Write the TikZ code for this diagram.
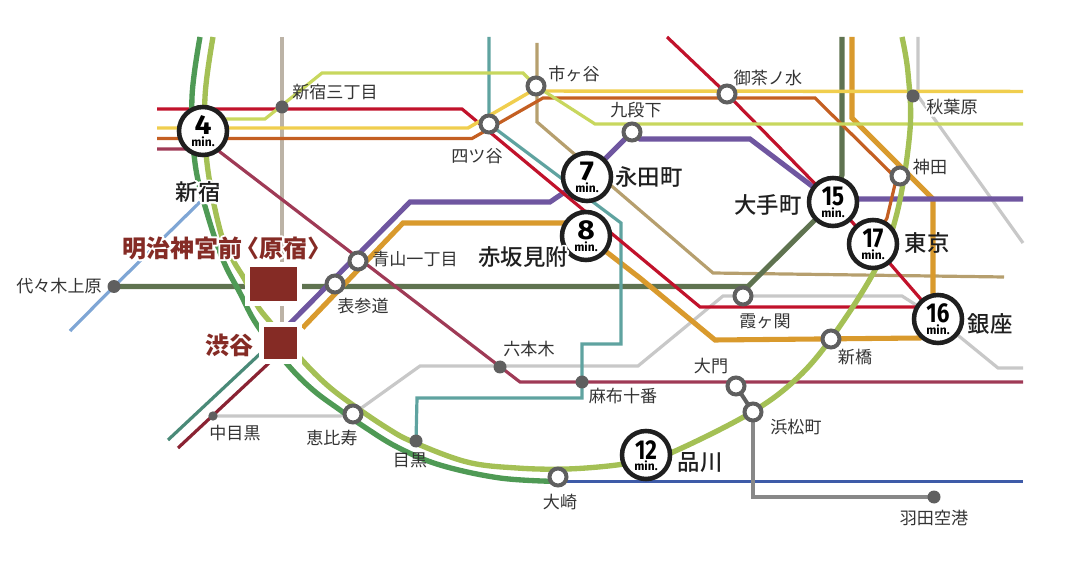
\documentclass[tikz,border=0pt]{standalone}
\usepackage{fontspec}
\usepackage{graphicx}
\setmainfont{Noto Sans CJK JP}
\newfontfamily\jpb{Noto Sans CJK JP Medium}
\newfontfamily\numf{Fira Sans}
\usetikzlibrary{backgrounds}
\definecolor{cRed}{HTML}{C1122B}
\definecolor{cYel}{HTML}{F0CE4E}
\definecolor{cBrn}{HTML}{C45F22}
\definecolor{cWine}{HTML}{9F3A56}
\definecolor{cLime}{HTML}{C8D75E}
\definecolor{cTeal}{HTML}{5FA3A0}
\definecolor{cTan}{HTML}{BCB3A6}
\definecolor{cGold}{HTML}{B69F6E}
\definecolor{cPur}{HTML}{6F56A0}
\definecolor{cOra}{HTML}{D99A2D}
\definecolor{cOli}{HTML}{5F7350}
\definecolor{cGry}{HTML}{C8C8C8}
\definecolor{cBlu}{HTML}{7FA6D5}
\definecolor{cDTl}{HTML}{4A8A78}
\definecolor{cDRd}{HTML}{8A2333}
\definecolor{cNvy}{HTML}{3E5BA8}
\definecolor{cMid}{HTML}{888888}
\definecolor{cRing}{HTML}{5F5F5F}
\definecolor{cGrn}{HTML}{4F9A55}
\definecolor{cLgn}{HTML}{A4C055}
\definecolor{cSq}{HTML}{852B25}
\definecolor{cTxt}{HTML}{333333}
\newcommand{\halotext}[1]{\leavevmode\rlap{\special{pdf:code q 1 1 1 RG 1 1 1 rg 1 j 2 Tr 3 w}#1\special{pdf:code Q}}#1}
\newcommand{\mins}[2][1.1]{\makebox[0pt]{\raisebox{-3pt}[0pt][0pt]{\numf\bfseries\fontsize{20.5pt}{20.5pt}\selectfont\scalebox{#1}[1]{#2}}}\makebox[0pt]{\raisebox{-11.3pt}[0pt][0pt]{\numf\bfseries\fontsize{9pt}{9pt}\selectfont min.}}}
\tikzset{
 rail/.style={line width=2.4pt,line join=miter},
 thick rail/.style={line width=3.8pt,line join=miter},
 ring rail/.style={line width=4pt},
 badge/.style={circle,draw=black!88,fill=white,line width=3.4pt,minimum size=36pt,inner sep=0pt,text=black},
 openst/.style={circle,draw=cRing,fill=white,line width=3pt,minimum size=12.75pt,inner sep=0pt},
 dotst/.style={circle,fill=cRing,minimum size=9.75pt,inner sep=0pt},
 smalldot/.style={circle,fill=cRing,minimum size=7pt,inner sep=0pt},
 sqst/.style={rectangle,fill=cSq,draw=white,line width=3.75pt,inner sep=0pt},
 lbl/.style={font=\fontsize{12.8pt}{13pt}\selectfont,text=cTxt,inner sep=0pt},
 big/.style={font=\jpb\fontsize{16.8pt}{17pt}\selectfont,text=black!88,inner sep=0pt},
 redl/.style={font=\bfseries\fontsize{18pt}{18pt}\selectfont,text=cSq,inner sep=0pt},
}
\begin{document}
\begin{tikzpicture}[x=0.75pt,y=-0.75pt]
\useasboundingbox (0,0) rectangle (1082,577);
% stations
\node[badge] (b4) at (203,131) {\mins{4}};
\node[badge] (b7) at (587,177) {\mins{7}};
\node[badge] (b8) at (586,236) {\mins{8}};
\node[badge] (b15) at (833,202) {\mins[.82]{15}};
\node[badge] (b17) at (873,244) {\mins[.82]{17}};
\node[badge] (b16) at (938,319) {\mins[.82]{16}};
\node[badge] (b12) at (646,455) {\mins[.82]{12}};
\node[openst] (yotsuya) at (489,124) {};
\node[openst] (ichigaya) at (536,86) {};
\node[openst] (ocha) at (727,94) {};
\node[openst] (kudan) at (632,132) {};
\node[openst] (kanda) at (900,176) {};
\node[openst] (aoyama) at (358,261) {};
\node[openst] (omote) at (335,284) {};
\node[openst] (ebisu) at (353,414) {};
\node[openst] (osaki) at (558,477) {};
\node[openst] (daimon) at (736,386) {};
\node[openst] (hama) at (753,412) {};
\node[openst] (kasumi) at (743,296) {};
\node[openst] (shinbashi) at (831,339) {};
\node[dotst] (san) at (282,107) {};
\node[dotst] (akiba) at (913,96) {};
\node[dotst] (yoyogi) at (114,286.5) {};
\node[dotst] (roppongi) at (500,367) {};
\node[dotst] (azabu) at (582,382) {};
\node[dotst] (meguro) at (416,441) {};
\node[dotst] (haneda) at (934,497) {};
\node[smalldot] (naka) at (213,416) {};
\node[sqst,minimum width=39pt,minimum height=29.25pt] (meiji) at (273.5,284) {};
\node[sqst,minimum width=28.5pt,minimum height=28pt] (shibuya) at (280.5,343) {};
% free line ends
\coordinate (redW) at (157,109);
\coordinate (yelW) at (157,128);
\coordinate (brnW) at (157,138.5);
\coordinate (winW) at (157,149);
\coordinate (yelE) at (1023,91.5);
\coordinate (limE) at (1023,124);
\coordinate (winE) at (1023,382);
\coordinate (purE) at (1023,199);
\coordinate (gryE) at (1023,368);
\coordinate (gryNE) at (1023,243);
\coordinate (nvyE) at (1023,481.5);
\coordinate (redN) at (667,37);
\coordinate (tealN) at (489,37);
\coordinate (tanN) at (282,37);
\coordinate (goldN) at (537,43);
\coordinate (goldE) at (1004,277);
\coordinate (oraN) at (852,37);
\coordinate (oliN) at (842,37);
\coordinate (gryN) at (918,37);
\coordinate (bluS) at (70,331);
\coordinate (bluN) at (200,202);
\coordinate (dtlS) at (168,440);
\coordinate (dtlN) at (262,352);
\coordinate (drdS) at (178,448);
\coordinate (drdN) at (269,363);
\begin{scope}[on background layer]
\draw[rail,cGold] (goldN) -- (537,122) -- (713,273) -- (goldE);
\draw[rail,cTan] (tanN) -- (282,270);
\draw[rail,cTan] (282,301) -- (282,326);
\draw[rail,cGry] (naka.center) -- (340,416) -- (ebisu.center) -- (420,366) -- (638,366) -- (723,296) -- (902,296) -- (b16.center) -- (998,368) -- (gryE);
\draw[rail,cGry] (gryN) -- (918,96) -- (gryNE);
\draw[rail,cBlu] (bluS) -- (yoyogi.center) -- (bluN);
\draw[rail,cDTl] (dtlN) -- (dtlS);
\draw[rail,cDRd] (drdN) -- (drdS);
\draw[rail,cNvy] (osaki.center |- nvyE) -- (nvyE);
\draw[rail,cMid] (hama.center) -- (753,497) -- (haneda.center);
\draw[rail,cRing,line width=3pt] (daimon.center) -- (hama.center);
\draw[thick rail,cOli] (oliN) -- (842,175) -- (b15.center) -- (748,286.5) -- (yoyogi.center);
\draw[thick rail,cOra] (shibuya.center) ++(22,-15) -- (403,223) -- (565,223) -- (b8.center) -- (640,278) -- (715,340) -- (920,338) -- (b16.center);
\draw[thick rail,cOra] (b16.center) ++(-5,0) -- (933,199) -- (852,118) -- (oraN);
\draw[thick rail,cPur] (shibuya.center) ++(5,-15) -- (410,202) -- (550,202) -- (b7.center) -- (kudan.center) -- (640,139) -- (750,139) -- (b15.center) -- (833,199) -- (purE);
\draw[rail,cTeal] (tealN) -- (yotsuya.center) -- (621,223) -- (621,344) -- (582,344) -- (582,398) -- (417,398) -- (meguro.center);
\draw[rail,cWine] (winW) -- (195,149) -- (b4.center) -- (220,152) -- (520,382) -- (winE);
\draw[rail,cRed] (redW) -- (462,109) -- (700,307) -- (b16.center |- 0,307);
\draw[rail,cRed] (redN) -- (ocha.center) -- (b15.center) -- (b17.center) -- (b16.center);
\draw[rail,cBrn] (brnW) -- (472,138.5) -- (543,98) -- (815,98) -- (890,172) -- (896,180) -- (887,218) -- (b17.center);
\draw[rail,cYel,line width=2.6pt] (yelW) -- (468,128) -- (530,92) -- (545,91) -- (yelE);
\draw[rail,cLime] (b4.center |- 0,119) -- (265,119) -- (322,73) -- (523,73) -- (ichigaya.center) -- (595,124) -- (limE);
\draw[ring rail,cGrn] plot[smooth,tension=.6] coordinates {(200,37) (192,97) (195,163) (207,213) (223,260) (240,293) (257,325) (288,365) (313,390) (340,410) (363,426) (397,447) (440,465) (500,478) (558,481.5)};
\draw[ring rail,cLgn] plot[smooth,tension=.6] coordinates {(213,37) (205,97) (207,163) (220,230) (233,260) (245,280) (257,305) (270,322) (302,360) (327,385) (353,405) (387,428) (413,442) (467,462) (517,468) (567,469) (617,465) (646,459) (673,452) (747,415) (793,382) (830,340) (875,270) (897,213) (910,130) (908,73) (902,37)};
\end{scope}
% labels
\node[lbl] (t1) at (335,92) {新宿三丁目};
\node[lbl] (t2) at (952,107) {\halotext{秋葉原}};
\node[lbl] (t3) at (930,167) {神田};
\node[lbl] (t4) at (768,78) {御茶ノ水};
\node[lbl] (t5) at (574,74) {市ヶ谷};
\node[lbl] (t6) at (636,110) {九段下};
\node[lbl] (t7) at (477,156) {四ツ谷};
\node[lbl] (t8) at (415,259) {青山一丁目};
\node[lbl] (t9) at (363,306) {表参道};
\node[lbl] (t10) at (235,433) {中目黒};
\node[lbl] (t11) at (332,438) {恵比寿};
\node[lbl] (t12) at (410,460) {目黒};
\node[lbl] (t13) at (560,502) {大崎};
\node[lbl] (t14) at (529,349) {六本木};
\node[lbl] (t15) at (623,396) {麻布十番};
\node[lbl] (t16) at (711,366) {大門};
\node[lbl] (t17) at (796,427) {浜松町};
\node[lbl] (t18) at (765,321) {霞ヶ関};
\node[lbl] (t19) at (855,357) {新橋};
\node[lbl] (t20) at (934,518) {羽田空港};
\node[lbl] (t21) at (59,286) {代々木上原};
\node[big] (t22) at (198,192) {\halotext{新宿}};
\node[big] (t23) at (649,177) {永田町};
\node[big] (t24) at (523,257) {\halotext{赤坂見附}};
\node[big] (t25) at (768,205) {大手町};
\node[big] (t26) at (927,243) {東京};
\node[big] (t27) at (990,324) {銀座};
\node[big] (t28) at (700,463) {品川};
\node[redl,anchor=west] (t29) at (122,248) {\halotext{明治神宮前\kern-.3em〈原宿〉}};
\node[redl] (t30) at (229,345) {\halotext{渋谷}};
\end{tikzpicture}
\end{document}
